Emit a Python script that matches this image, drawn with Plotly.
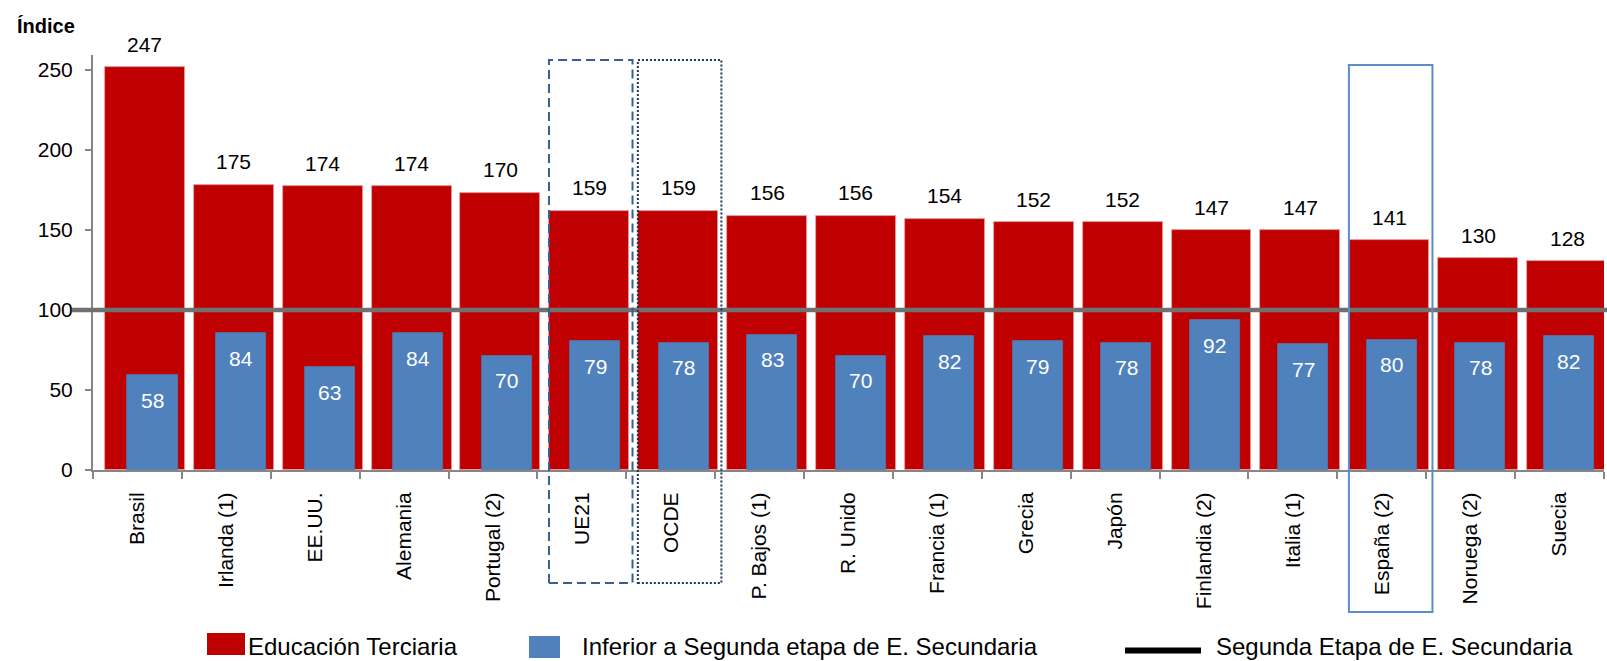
import plotly.graph_objects as go

# ---------------- data ----------------
categories = ["Brasil", "Irlanda (1)", "EE.UU.", "Alemania", "Portugal (2)", "UE21", "OCDE",
              "P. Bajos (1)", "R. Unido", "Francia (1)", "Grecia", "Japón", "Finlandia (2)",
              "Italia (1)", "España (2)", "Noruega (2)", "Suecia"]
terciaria = [247, 175, 174, 174, 170, 159, 159, 156, 156, 154, 152, 152, 147, 147, 141, 130, 128]
inferior = [58, 84, 63, 84, 70, 79, 78, 83, 70, 82, 79, 78, 92, 77, 80, 78, 82]
segunda_etapa = 100
y_ticks = [0, 50, 100, 150, 200, 250]
series_names = ["Educación Terciaria", "Inferior a Segunda etapa de E. Secundaria",
                "Segunda Etapa de E. Secundaria"]
y_title = "Índice"
highlighted = ["UE21", "OCDE", "España (2)"]

# ---------------- styling / layout constants ----------------
FIG_W, FIG_H = 1607, 661
M_L, M_R, M_T, M_B = 93, 3, 55, 191
PLOT_W = FIG_W - M_L - M_R
PLOT_H = FIG_H - M_T - M_B
FONT = "Liberation Sans, Arial, sans-serif"
RED = "#C00000"
BLUE = "#4F81BD"
AXIS_GRAY = "#868686"
TXT = 21

RED_WIDTH = 0.9
RED_OFFSET = -0.366
BLUE_WIDTH = 0.565


def px_x(x):
    return (x - M_L) / PLOT_W


def px_y(y):
    return (FIG_H - M_B - y) / PLOT_H


fig = go.Figure()

fig.add_trace(go.Bar(
    x=categories, y=terciaria, name=series_names[0],
    xaxis="x", yaxis="y2",
    width=RED_WIDTH, offset=RED_OFFSET,
    marker=dict(color=RED, line=dict(color="#E8A3A3", width=0.8)),
    showlegend=False, hoverinfo="x+y",
))
fig.add_trace(go.Bar(
    x=categories, y=inferior, name=series_names[1],
    xaxis="x2", yaxis="y2",
    width=BLUE_WIDTH,
    marker=dict(color=BLUE, line=dict(color="#4A7AB3", width=0.8)),
    showlegend=False, hoverinfo="x+y",
))

annotations = []
red_center = RED_OFFSET + RED_WIDTH / 2
for i, (c, v) in enumerate(zip(categories, terciaria)):
    annotations.append(dict(x=i + red_center, y=v, xref="x", yref="y2", text=str(v),
                            showarrow=False, yshift=23, yanchor="middle",
                            font=dict(family=FONT, size=TXT, color="#000000")))
for c, v in zip(categories, inferior):
    annotations.append(dict(x=c, y=v, xref="x2", yref="y2", text=str(v),
                            showarrow=False, yshift=-25, yanchor="middle",
                            font=dict(family=FONT, size=TXT, color="#FFFFFF")))

# axis title
annotations.append(dict(x=px_x(15), y=px_y(26), xref="paper", yref="paper", text="<b>" + y_title + "</b>",
                        showarrow=False, xanchor="left", yanchor="middle",
                        font=dict(family=FONT, size=20, color="#000000")))

shapes = []
# reference line (Segunda etapa = 100)
shapes.append(dict(type="line", xref="paper", yref="y", x0=px_x(72), x1=px_x(FIG_W),
                   y0=segunda_etapa, y1=segunda_etapa,
                   line=dict(color="#707070", width=4.5)))

# highlight boxes
box_styles = {
    "UE21": dict(color="#376092", dash="9px,5px", top=60, bottom=583),
    "OCDE": dict(color="#17375E", dash="2px,2px", top=60, bottom=583),
    "España (2)": dict(color="#5B8DCB", dash="solid", top=65, bottom=612),
}
for name in highlighted:
    i = categories.index(name)
    st = box_styles[name]
    shapes.append(dict(type="rect", xref="x", yref="paper",
                       x0=i - 0.37, x1=i + 0.57, y0=px_y(st["bottom"]), y1=px_y(st["top"]),
                       line=dict(color=st["color"], width=2, dash=st["dash"]),
                       fillcolor="rgba(0,0,0,0)"))

# manual legend
shapes.append(dict(type="rect", xref="paper", yref="paper",
                   x0=px_x(207), x1=px_x(245), y0=px_y(655), y1=px_y(633),
                   fillcolor=RED, line=dict(width=0)))
annotations.append(dict(x=px_x(246), y=px_y(646), xref="paper", yref="paper", text=series_names[0],
                        showarrow=False, xanchor="left", yanchor="middle",
                        font=dict(family=FONT, size=24, color="#000000")))
shapes.append(dict(type="rect", xref="paper", yref="paper",
                   x0=px_x(529), x1=px_x(560), y0=px_y(658), y1=px_y(636),
                   fillcolor=BLUE, line=dict(width=0)))
annotations.append(dict(x=px_x(580), y=px_y(646.5), xref="paper", yref="paper", text=series_names[1],
                        showarrow=False, xanchor="left", yanchor="middle",
                        font=dict(family=FONT, size=24, color="#000000")))
shapes.append(dict(type="line", xref="paper", yref="paper",
                   x0=px_x(1125), x1=px_x(1201), y0=px_y(650.5), y1=px_y(650.5),
                   line=dict(color="#000000", width=6)))
annotations.append(dict(x=px_x(1214), y=px_y(646.5), xref="paper", yref="paper", text=series_names[2],
                        showarrow=False, xanchor="left", yanchor="middle",
                        font=dict(family=FONT, size=24, color="#000000")))

fig.update_layout(
    width=FIG_W, height=FIG_H, autosize=False,
    margin=dict(l=M_L, r=M_R, t=M_T, b=M_B, pad=0),
    paper_bgcolor="white", plot_bgcolor="white",
    barmode="overlay", bargap=0,
    font=dict(family=FONT, size=TXT, color="#000000"),
    showlegend=False,
    xaxis=dict(type="category", range=[-0.5, len(categories) - 0.5],
               tickson="boundaries", ticks="outside", ticklen=7, tickwidth=1.5, tickcolor=AXIS_GRAY,
               showline=True, linecolor=AXIS_GRAY, linewidth=2,
               tickangle=-90, tickfont=dict(family=FONT, size=TXT, color="#000000"),
               ticklabelstandoff=12, showgrid=False, zeroline=False),
    xaxis2=dict(type="category", overlaying="x", visible=False,
                range=[-0.672, 16.396], showgrid=False, zeroline=False),
    yaxis=dict(range=[0, 259.4], tickvals=y_ticks, ticks="outside", ticklen=6, tickwidth=1.5,
               tickcolor=AXIS_GRAY, showline=True, linecolor=AXIS_GRAY, linewidth=2,
               tickfont=dict(family=FONT, size=TXT, color="#000000"),
               ticklabelstandoff=8, showgrid=False, zeroline=False),
    yaxis2=dict(range=[0, 254.6], overlaying="y", visible=False, showgrid=False, zeroline=False),
    shapes=shapes,
    annotations=annotations,
)

fig.write_html("out.html", config={"displayModeBar": False},
               post_script="document.body.style.margin='0px';")
